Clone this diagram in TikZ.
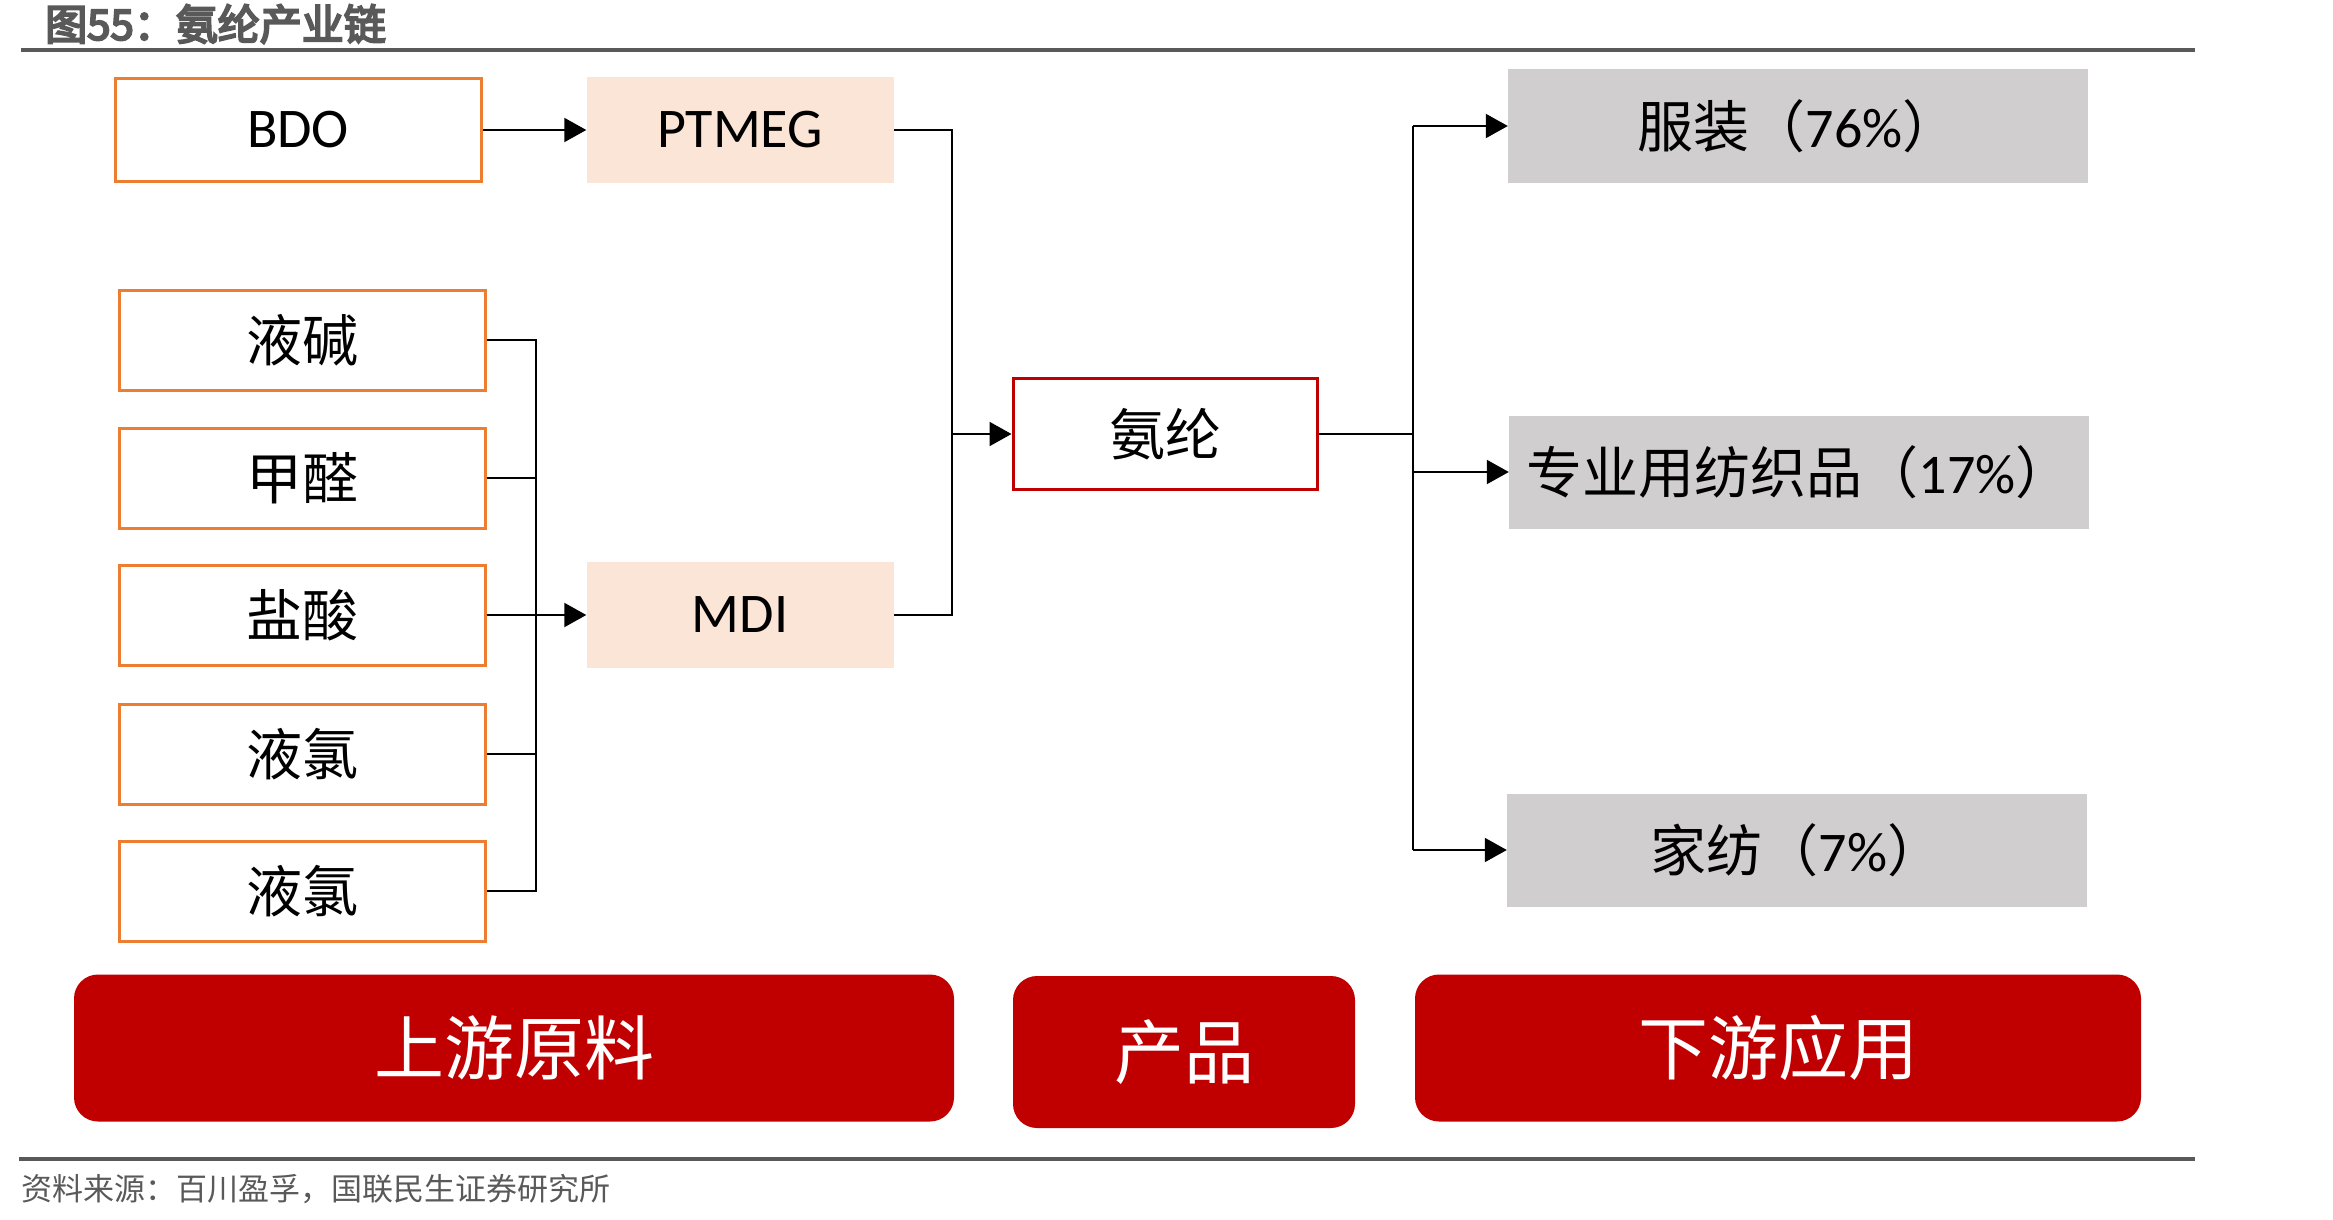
\documentclass[tikz,border=0pt]{standalone}
\usepackage{fontspec}
\setmainfont{Carlito}
\newfontfamily\cjk{Noto Sans CJK SC}
\newfontfamily\cjkbold[FakeBold=5]{Noto Sans CJK SC}
\usetikzlibrary{arrows.meta}
\definecolor{orangeB}{HTML}{ED7D31}
\definecolor{peach}{HTML}{FBE5D6}
\definecolor{greyB}{HTML}{D0CECE}
\definecolor{redB}{HTML}{C00000}
\definecolor{titlegrey}{HTML}{595959}
\tikzset{
  rawbox/.style={draw=orangeB, line width=3pt, fill=white, minimum width=366pt, minimum height=100pt, inner sep=0pt, font=\fontsize{56}{60}\selectfont},
  midbox/.style={fill=peach, minimum width=307pt, minimum height=106pt, inner sep=0pt, font=\fontsize{56}{60}\selectfont},
  prodbox/.style={draw=redB, line width=3pt, fill=white, minimum width=304pt, minimum height=111pt, inner sep=0pt, font=\fontsize{56}{60}\selectfont},
  usebox/.style={fill=greyB, minimum width=580pt, minimum height=113pt, inner sep=0pt, font=\fontsize{56}{60}\selectfont},
  bar/.style={fill=redB, rounded corners=24pt, text=white, inner sep=0pt, font=\fontsize{70}{74}\selectfont\cjk},
  conn/.style={line width=2pt, black},
  arr/.style={conn, -{Triangle[length=22pt,width=24pt]}},
  rule/.style={line width=3.5pt, titlegrey}
}
\begin{document}
\begin{tikzpicture}[x=1pt,y=-1pt]
\useasboundingbox (0,0) rectangle (2333,1220);
% title and rules
\node[anchor=west, inner sep=0pt, text=titlegrey, font=\fontsize{42}{46}\selectfont\cjkbold] (title) at (45,24) {图55：氨纶产业链};
\coordinate (r1a) at (21,50);
\coordinate (r1b) at (2195,50);
\draw[rule] (r1a) -- (r1b);
\coordinate (r2a) at (19,1159);
\coordinate (r2b) at (2195,1159);
\draw[rule] (r2a) -- (r2b);
\node[anchor=west, inner sep=0pt, text=titlegrey, font=\fontsize{31}{34}\selectfont\cjk] (source) at (21,1189) {资料来源：百川盈孚，国联民生证券研究所};
% raw materials
\node[rawbox, minimum width=366pt, minimum height=103pt] (bdo) at (298,130) {BDO};
\node[rawbox] (a1) at (302,340) {\cjk 液碱};
\node[rawbox] (a2) at (302,478) {\cjk 甲醛};
\node[rawbox] (a3) at (302,615) {\cjk 盐酸};
\node[rawbox] (a4) at (302,754) {\cjk 液氯};
\node[rawbox] (a5) at (302,891) {\cjk 液氯};
% intermediates
\node[midbox] (ptmeg) at (740,130) {PTMEG};
\node[midbox] (mdi) at (740,615) {MDI};
% product
\node[prodbox] (spandex) at (1165,434) {\cjk 氨纶};
% uses
\node[usebox] (u1) at (1798,126) {{\cjk 服装（}76\%{\cjk ）}};
\node[usebox] (u2) at (1799,472) {{\cjk 专业用纺织品（}17\%{\cjk ）}};
\node[usebox] (u3) at (1797,850) {{\cjk 家纺（}7\%{\cjk ）}};
% bottom bars
\node[bar, minimum width=880pt, minimum height=147pt] (b1) at (514,1048) {上游原料};
\node[bar, minimum width=342pt, minimum height=152pt] (b2) at (1184,1052) {产品};
\node[bar, minimum width=726pt, minimum height=147pt] (b3) at (1778,1048) {下游应用};
% connectors
\draw[arr] (bdo.east) -- (ptmeg.west);
\coordinate (lbx) at (536,0);
\draw[conn] (a1.east) -- (a1.east -| lbx) -- (a5.east -| lbx) -- (a5.east);
\draw[conn] (a2.east) -- (a2.east -| lbx);
\draw[conn] (a4.east) -- (a4.east -| lbx);
\draw[arr] (a3.east) -- (mdi.west);
\coordinate (mbx) at (952,0);
\draw[conn] (ptmeg.east) -- (ptmeg.east -| mbx) -- (mdi.east -| mbx) -- (mdi.east);
\draw[arr] (spandex.west -| mbx) -- (spandex.west);
\coordinate (rbx) at (1413,0);
\draw[conn] (spandex.east) -- (spandex.east -| rbx);
\draw[conn] (u1.west -| rbx) -- (u3.west -| rbx);
\draw[arr] (u1.west -| rbx) -- (u1.west);
\draw[arr] (u2.west -| rbx) -- (u2.west);
\draw[arr] (u3.west -| rbx) -- (u3.west);
\end{tikzpicture}
\end{document}
